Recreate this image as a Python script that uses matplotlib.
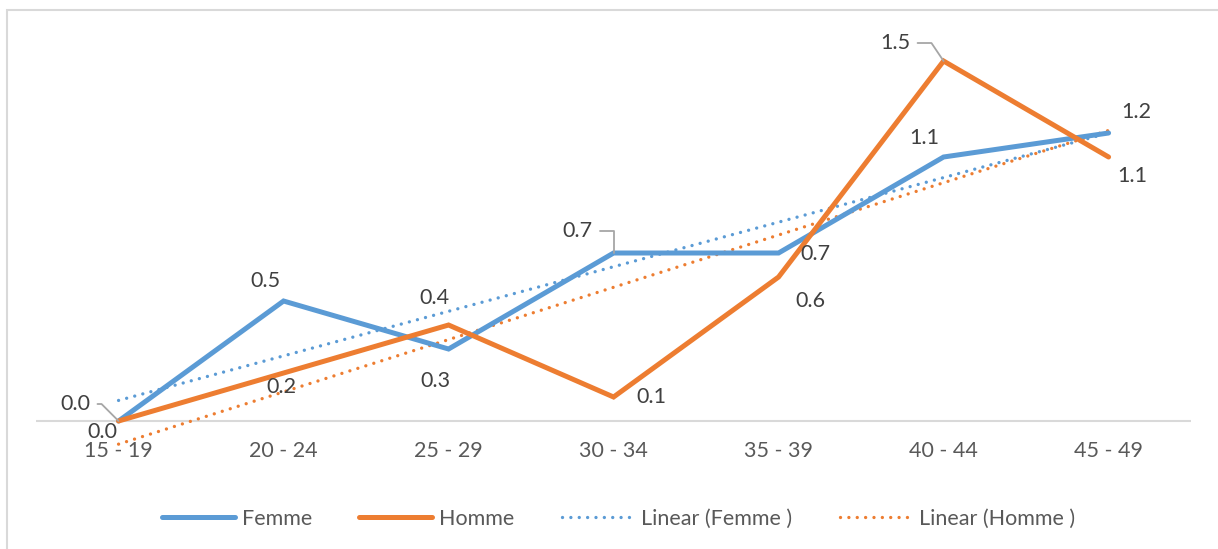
import numpy as np
import matplotlib
matplotlib.use("Agg")
import matplotlib.pyplot as plt
from matplotlib.lines import Line2D
from matplotlib.patches import Rectangle

plt.rcParams['font.family'] = ['Lato', 'DejaVu Sans']

categories = ["15 - 19", "20 - 24", "25 - 29", "30 - 34", "35 - 39", "40 - 44", "45 - 49"]
femme = [0.0, 0.5, 0.3, 0.7, 0.7, 1.1, 1.2]
homme = [0.0, 0.2, 0.4, 0.1, 0.6, 1.5, 1.1]

BLUE = "#5B9BD5"
ORANGE = "#ED7D31"
LABEL = "#404040"
TICK = "#595959"
GRID = "#D9D9D9"
FS = 15.5

fig = plt.figure(figsize=(12.18, 5.49), dpi=100)
ax = fig.add_axes([0.0296, 0.1457, 0.9483, 0.7869])

x = np.arange(len(categories))

# trend lines (least squares fit over category index)
def trend(vals):
    k, b = np.polyfit(x, vals, 1)
    return k * x + b

dot = (0, (0.01, 2.5))
ax.plot(x, trend(femme), color=BLUE, lw=2.4, linestyle=dot, dash_capstyle='round', zorder=2)
ax.plot(x, trend(homme), color=ORANGE, lw=2.4, linestyle=dot, dash_capstyle='round', zorder=2)

ax.plot(x, femme, color=BLUE, lw=3.6, solid_capstyle='round', solid_joinstyle='miter', zorder=3)
ax.plot(x, homme, color=ORANGE, lw=3.6, solid_capstyle='round', solid_joinstyle='miter', zorder=4)

ax.axhline(0, color=GRID, lw=1.5, zorder=1)

ax.set_xlim(-0.5, len(categories) - 0.5)
ax.set_ylim(-0.2, 1.6)
ax.set_xticks([])
ax.set_yticks([])
for s in ax.spines.values():
    s.set_visible(False)

# category labels sit just under the zero line
for xi, c in zip(x, categories):
    ax.annotate(c, (xi, 0), xytext=(0, -30), textcoords='offset pixels',
                ha='center', va='center', fontsize=FS, color=TICK)

# data labels: (offset_x, offset_y, leader angle at the point or None)
femme_off = [(-43, 17, 135), (-18, 20, None), (-13, -32, None), (-36, 22, 90),
             (37, -1, None), (-19, 19, None), (28, 21, None)]
homme_off = [(-16, -11, None), (-2, -14, None), (-14, 27, None), (38, 0, None),
             (32, -24, None), (-48, 18, 124), (24, -19, None)]

def put_labels(vals, offs):
    for xi, v, (dx, dy, lead) in zip(x, vals, offs):
        kw = {}
        if lead is not None:
            kw['arrowprops'] = dict(arrowstyle='-', color="#A6A6A6", lw=1.3,
                                    shrinkA=3, shrinkB=0,
                                    connectionstyle=f"angle,angleA=0,angleB={lead},rad=0")
        ax.annotate(f"{v:.1f}", (xi, v), xytext=(dx, dy), textcoords='offset pixels',
                    ha='center', va='center', fontsize=FS, color=LABEL, zorder=6, **kw)

put_labels(femme, femme_off)
put_labels(homme, homme_off)

handles = [
    Line2D([], [], color=BLUE, lw=3.6, solid_capstyle='round'),
    Line2D([], [], color=ORANGE, lw=3.6, solid_capstyle='round'),
    Line2D([], [], color=BLUE, lw=2.4, linestyle=dot, dash_capstyle='round'),
    Line2D([], [], color=ORANGE, lw=2.4, linestyle=dot, dash_capstyle='round'),
]
labels = ["Femme", "Homme", "Linear (Femme )", "Linear (Homme )"]
leg = fig.legend(handles, labels, loc='center', bbox_to_anchor=(0.508, 0.0546), ncol=4,
                 frameon=False, fontsize=FS, handlelength=3.4, handletextpad=0.3,
                 columnspacing=2.2)
for t in leg.get_texts():
    t.set_color(TICK)

# chart area border
fig.patches.append(Rectangle((7 / 1218, -0.1), 1.2, 1 - 10 / 549 + 0.1,
                             transform=fig.transFigure, fill=False,
                             edgecolor=GRID, lw=1.5))

fig.savefig("out.png", dpi=100)
